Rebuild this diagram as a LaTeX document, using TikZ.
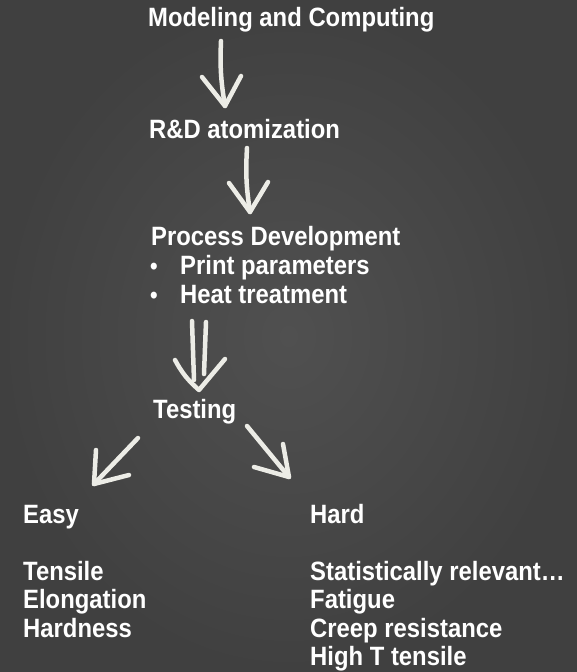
\documentclass[tikz,border=0pt]{standalone}
\usepackage{fontspec}
\setmainfont{Liberation Sans}[FakeStretch=0.9]
\usepackage{xcolor}
\usetikzlibrary{calc}

\definecolor{board}{RGB}{80,80,80}
\definecolor{boardedge}{RGB}{64,64,64}
\definecolor{chalk}{RGB}{236,236,230}

\tikzset{
  label/.style={anchor=base west, inner sep=0pt, text=white,
    font=\fontsize{26.5}{28.5}\selectfont\bfseries},
  bullet/.style={label, font=\fontsize{24}{26}\selectfont\bfseries},
  chalkline/.style={draw=chalk, line width=4.5pt, line cap=round, line join=round}
}

\begin{document}
\begin{tikzpicture}[x=1pt,y=-1pt]
  % board
  \shade[inner color=board, outer color=boardedge] (0,0) rectangle (577,672);
  \useasboundingbox (0,0) rectangle (577,672);

  % text
  \node[label] (model) at (148,26) {Modeling and Computing};
  \node[label] (rnd) at (149,138) {R\&D atomization};
  \node[label] (proc) at (151,245) {Process Development};
  \node[bullet] (bul1) at (150,274) {•};
  \node[label] (print) at (180,274) {Print parameters};
  \node[bullet] (bul2) at (150,303) {•};
  \node[label] (heat) at (180,303) {Heat treatment};
  \node[label] (test) at (153,418) {Testing};

  \node[label] (easy) at (23,523) {Easy};
  \node[label] (tens) at (23,580) {Tensile};
  \node[label] (elong) at (23,608.5) {Elongation};
  \node[label] (hardn) at (23,637) {Hardness};

  \node[label] (hard) at (310,523) {Hard};
  \node[label] (stat) at (310,580) {Statistically relevant…};
  \node[label] (fatig) at (310,608.5) {Fatigue};
  \node[label] (creep) at (310,637) {Creep resistance};
  \node[label] (hight) at (310,665.5) {High T tensile};

  % arrow ends
  \coordinate (a1s) at (221,41);   \coordinate (a1t) at (225,106);
  \coordinate (a1l) at (202,77);   \coordinate (a1r) at (241,76);
  \coordinate (a2s) at (247,148);  \coordinate (a2t) at (250,212);
  \coordinate (a2l) at (229,183);  \coordinate (a2r) at (268,182);
  \coordinate (a3s) at (192,321);  \coordinate (a3e) at (194,380);
  \coordinate (a3s') at (206,322); \coordinate (a3e') at (204,374);
  \coordinate (a3t) at (199,390);
  \coordinate (a3l) at (175,360);  \coordinate (a3r) at (225,359);
  \coordinate (a4s) at (138,438);  \coordinate (a4t) at (94,484);
  \coordinate (a4u) at (96,450);   \coordinate (a4r) at (129,475);
  \coordinate (a5s) at (247,426);  \coordinate (a5t) at (289,477);
  \coordinate (a5l) at (254,467);  \coordinate (a5u) at (283,444);

  % chalk arrows
  \draw[chalkline] (a1s) to[bend right=6] (a1t);
  \draw[chalkline] (a1l) -- (a1t) -- (a1r);

  \draw[chalkline] (a2s) to[bend right=6] (a2t);
  \draw[chalkline] (a2l) -- (a2t) -- (a2r);

  \draw[chalkline] (a3s) -- (a3e);
  \draw[chalkline] (a3s') -- (a3e');
  \draw[chalkline] (a3l) to[bend right=10] (a3t) -- (a3r);

  \draw[chalkline] (a4s) -- (a4t);
  \draw[chalkline] (a4u) -- (a4t) -- (a4r);

  \draw[chalkline] (a5s) -- (a5t);
  \draw[chalkline] (a5l) -- (a5t) -- (a5u);

\end{tikzpicture}
\end{document}
